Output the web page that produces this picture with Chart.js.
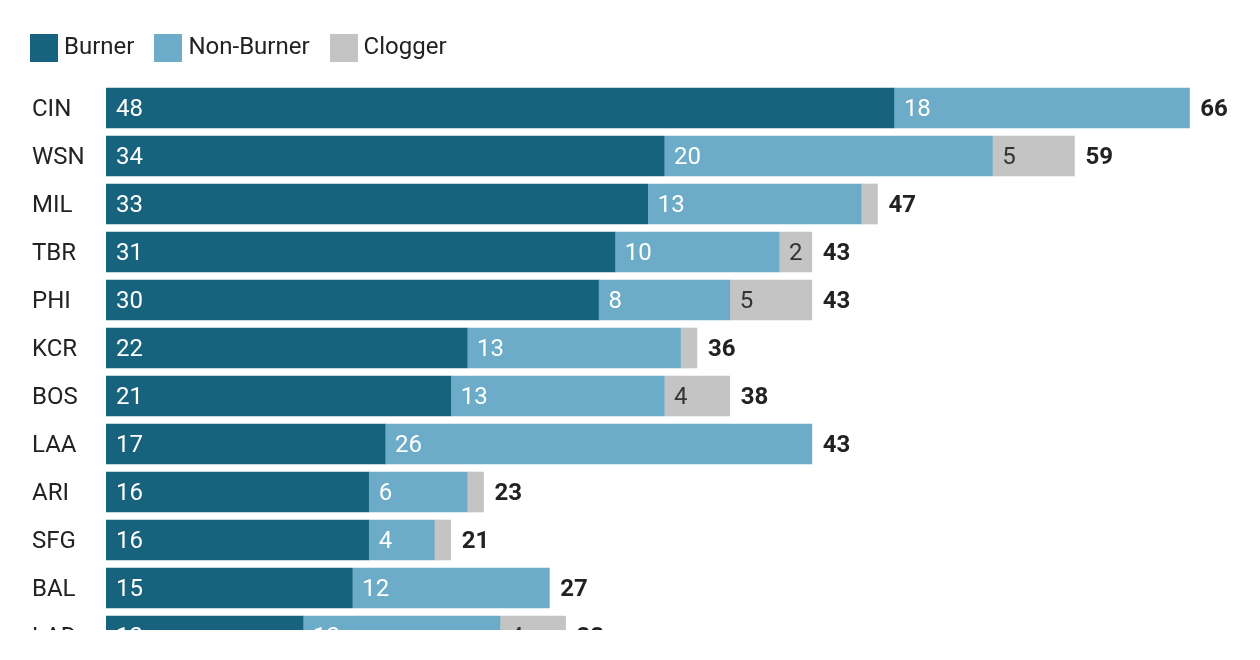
<!DOCTYPE html>
<html>
<head>
<meta charset="utf-8">
<script src="https://cdn.jsdelivr.net/npm/chart.js@4"></script>
<style>
  html, body { margin: 0; padding: 0; background: #fff; }
  body { font-family: Roboto, sans-serif; }
  #wrap { position: relative; width: 1260px; height: 630px; overflow: hidden; }
  #chartBox { position: absolute; left: 0; top: 0; width: 1260px; height: 680px; }
  #legend { position: absolute; left: 30px; top: 34px; height: 28px; display: flex; align-items: center; font-size: 24px; color: #222; z-index: 2; }
  .item { display: flex; align-items: center; margin-right: 20px; }
  .swatch { width: 28px; height: 28px; margin-right: 6px; }
  .name { position: relative; top: -2px; }
</style>
</head>
<body>
<div id="wrap">
  <div id="legend"></div>
  <div id="chartBox"><canvas id="chart"></canvas></div>
</div>
<script>
// Donnees
const teams = ['CIN', 'WSN', 'MIL', 'TBR', 'PHI', 'KCR', 'BOS', 'LAA', 'ARI', 'SFG', 'BAL', 'LAD'];
const burner = [48, 34, 33, 31, 30, 22, 21, 17, 16, 16, 15, 12];
const nonBurner = [18, 20, 13, 10, 8, 13, 13, 26, 6, 4, 12, 12];
const clogger = [0, 5, 1, 2, 5, 1, 4, 0, 1, 1, 0, 4];

const seriesNames = ['Burner', 'Non-Burner', 'Clogger'];
const seriesColors = ['#17627c', '#6cacc9', '#c4c4c4'];
const labelColors = ['#ffffff', '#ffffff', '#333333'];

const totals = teams.map((t, i) => burner[i] + nonBurner[i] + clogger[i]);

// Legende HTML
const legend = document.getElementById('legend');
seriesNames.forEach((name, i) => {
    const item = document.createElement('div');
    item.className = 'item';
    item.innerHTML = `<span class="swatch" style="background:${seriesColors[i]}"></span><span class="name">${name}</span>`;
    legend.appendChild(item);
});

// Etiquettes : equipes, segments et totaux (ligne de base alphabetique)
const BASE = 8;
const barLabels = {
    id: 'barLabels',
    afterDatasetsDraw(chart) {
        const ctx = chart.ctx;
        const yScale = chart.scales.y;
        ctx.save();
        ctx.textBaseline = 'alphabetic';
        ctx.textAlign = 'left';
        ctx.font = '24px Roboto';

        ctx.fillStyle = '#222';
        teams.forEach((t, j) => {
            ctx.fillText(t, yScale.left, yScale.getPixelForTick(j) + BASE);
        });

        chart.data.datasets.forEach((ds, i) => {
            const meta = chart.getDatasetMeta(i);
            meta.data.forEach((bar, j) => {
                const v = ds.data[j];
                if (v < 2) return;
                ctx.fillStyle = labelColors[i];
                ctx.fillText(v, bar.base + 10, bar.y + BASE);
            });
        });

        ctx.font = 'bold 24px Roboto';
        ctx.fillStyle = '#222';
        const first = chart.getDatasetMeta(0);
        totals.forEach((t, j) => {
            const x = chart.scales.x.getPixelForValue(t);
            ctx.fillText(t, x + 11, first.data[j].y + BASE);
        });
        ctx.restore();
    }
};

const data = [burner, nonBurner, clogger];

new Chart(document.getElementById('chart').getContext('2d'), {
    type: 'bar',
    data: {
        labels: teams,
        datasets: seriesNames.map((name, i) => ({
            label: name,
            data: data[i],
            backgroundColor: seriesColors[i],
            borderWidth: 0,
            barThickness: 40
        }))
    },
    options: {
        indexAxis: 'y',
        responsive: true,
        maintainAspectRatio: false,
        animation: false,
        layout: { padding: { left: 32, right: 5, top: 84, bottom: 20 } },
        scales: {
            x: {
                stacked: true,
                display: false,
                min: 0,
                max: 70
            },
            y: {
                stacked: true,
                grid: { display: false },
                border: { display: false },
                ticks: {
                    crossAlign: 'far',
                    color: 'rgba(0,0,0,0)',
                    font: { family: 'Roboto', size: 24 }
                },
                afterFit(scale) { scale.width = 74; }
            }
        },
        plugins: {
            legend: { display: false },
            tooltip: { enabled: false }
        }
    },
    plugins: [barLabels]
});
</script>
</body>
</html>
